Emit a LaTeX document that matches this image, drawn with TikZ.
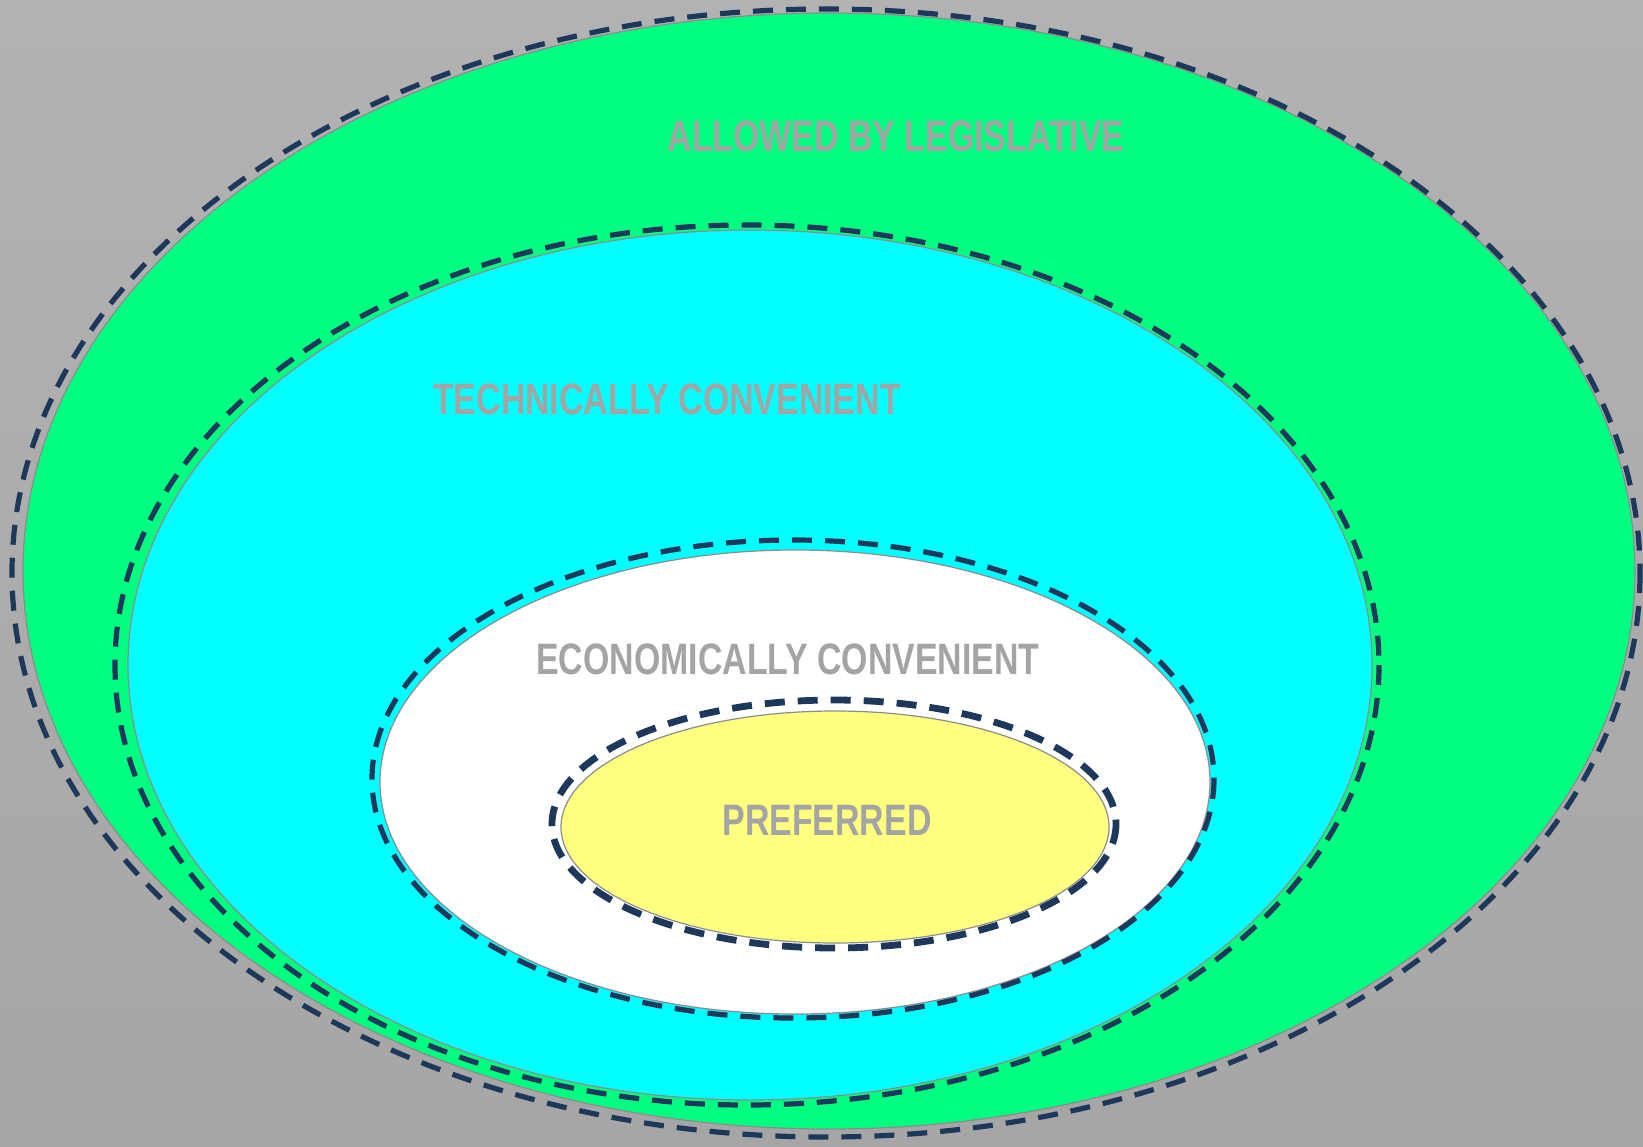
\documentclass[tikz,border=0pt]{standalone}
\usepackage{fontspec}
\setmainfont{Liberation Sans}
\usetikzlibrary{positioning}
\definecolor{bggray}{RGB}{178,178,178}
\definecolor{bgdark}{RGB}{166,166,166}
\definecolor{dashnavy}{RGB}{30,56,92}
\definecolor{legalgreen}{RGB}{0,255,128}
\definecolor{techcyan}{RGB}{0,255,255}
\definecolor{prefyellow}{RGB}{255,255,128}
\definecolor{labelgray}{RGB}{164,164,164}
\tikzset{
    % set styles
    zone/.style={draw=black!45, line width=0.6pt},
    border/.style={draw=dashnavy, line width=2.6pt, dash pattern=on 10pt off 6.5pt},
    zone label/.style={font=\bfseries\fontsize{22}{24}\selectfont, text=labelgray, inner sep=0pt},
}
\newcommand{\narrowtext}[1]{\scalebox{0.77}[1]{#1}}

\begin{document}
\begin{tikzpicture}[x=0.5pt, y=-0.5pt]
    % Background
    \shade[top color=bggray, bottom color=bgdark] (0,0) rectangle (1643,1146);
    \useasboundingbox (0,0) rectangle (1643,1146);

    % Allowed by legislative
    \fill[zone, fill=legalgreen] (829,571) ellipse [x radius=806, y radius=558];
    \draw[border] (826,573) ellipse [x radius=814, y radius=564];

    % Technically convenient
    \fill[zone, fill=techcyan] (750,665) ellipse [x radius=622, y radius=435];
    \draw[border] (747,665) ellipse [x radius=632, y radius=440];

    % Economically convenient
    \fill[zone, fill=white] (795,782) ellipse [x radius=415, y radius=232];
    \draw[border] (793,779) ellipse [x radius=421, y radius=239];

    % Preferred
    \fill[zone, fill=prefyellow] (835,827) ellipse [x radius=274, y radius=116];
    \draw[border, line width=3.4pt] (834,824) ellipse [x radius=282, y radius=124];

    % Labels
    \node[zone label] (legal) at (896,136) {\narrowtext{ALLOWED BY LEGISLATIVE}};
    \node[zone label] (tech) at (667,399) {\narrowtext{TECHNICALLY CONVENIENT}};
    \node[zone label] (econ) at (788,659) {\narrowtext{ECONOMICALLY CONVENIENT}};
    \node[zone label] (pref) at (827,820) {\narrowtext{PREFERRED}};
\end{tikzpicture}
\end{document}
